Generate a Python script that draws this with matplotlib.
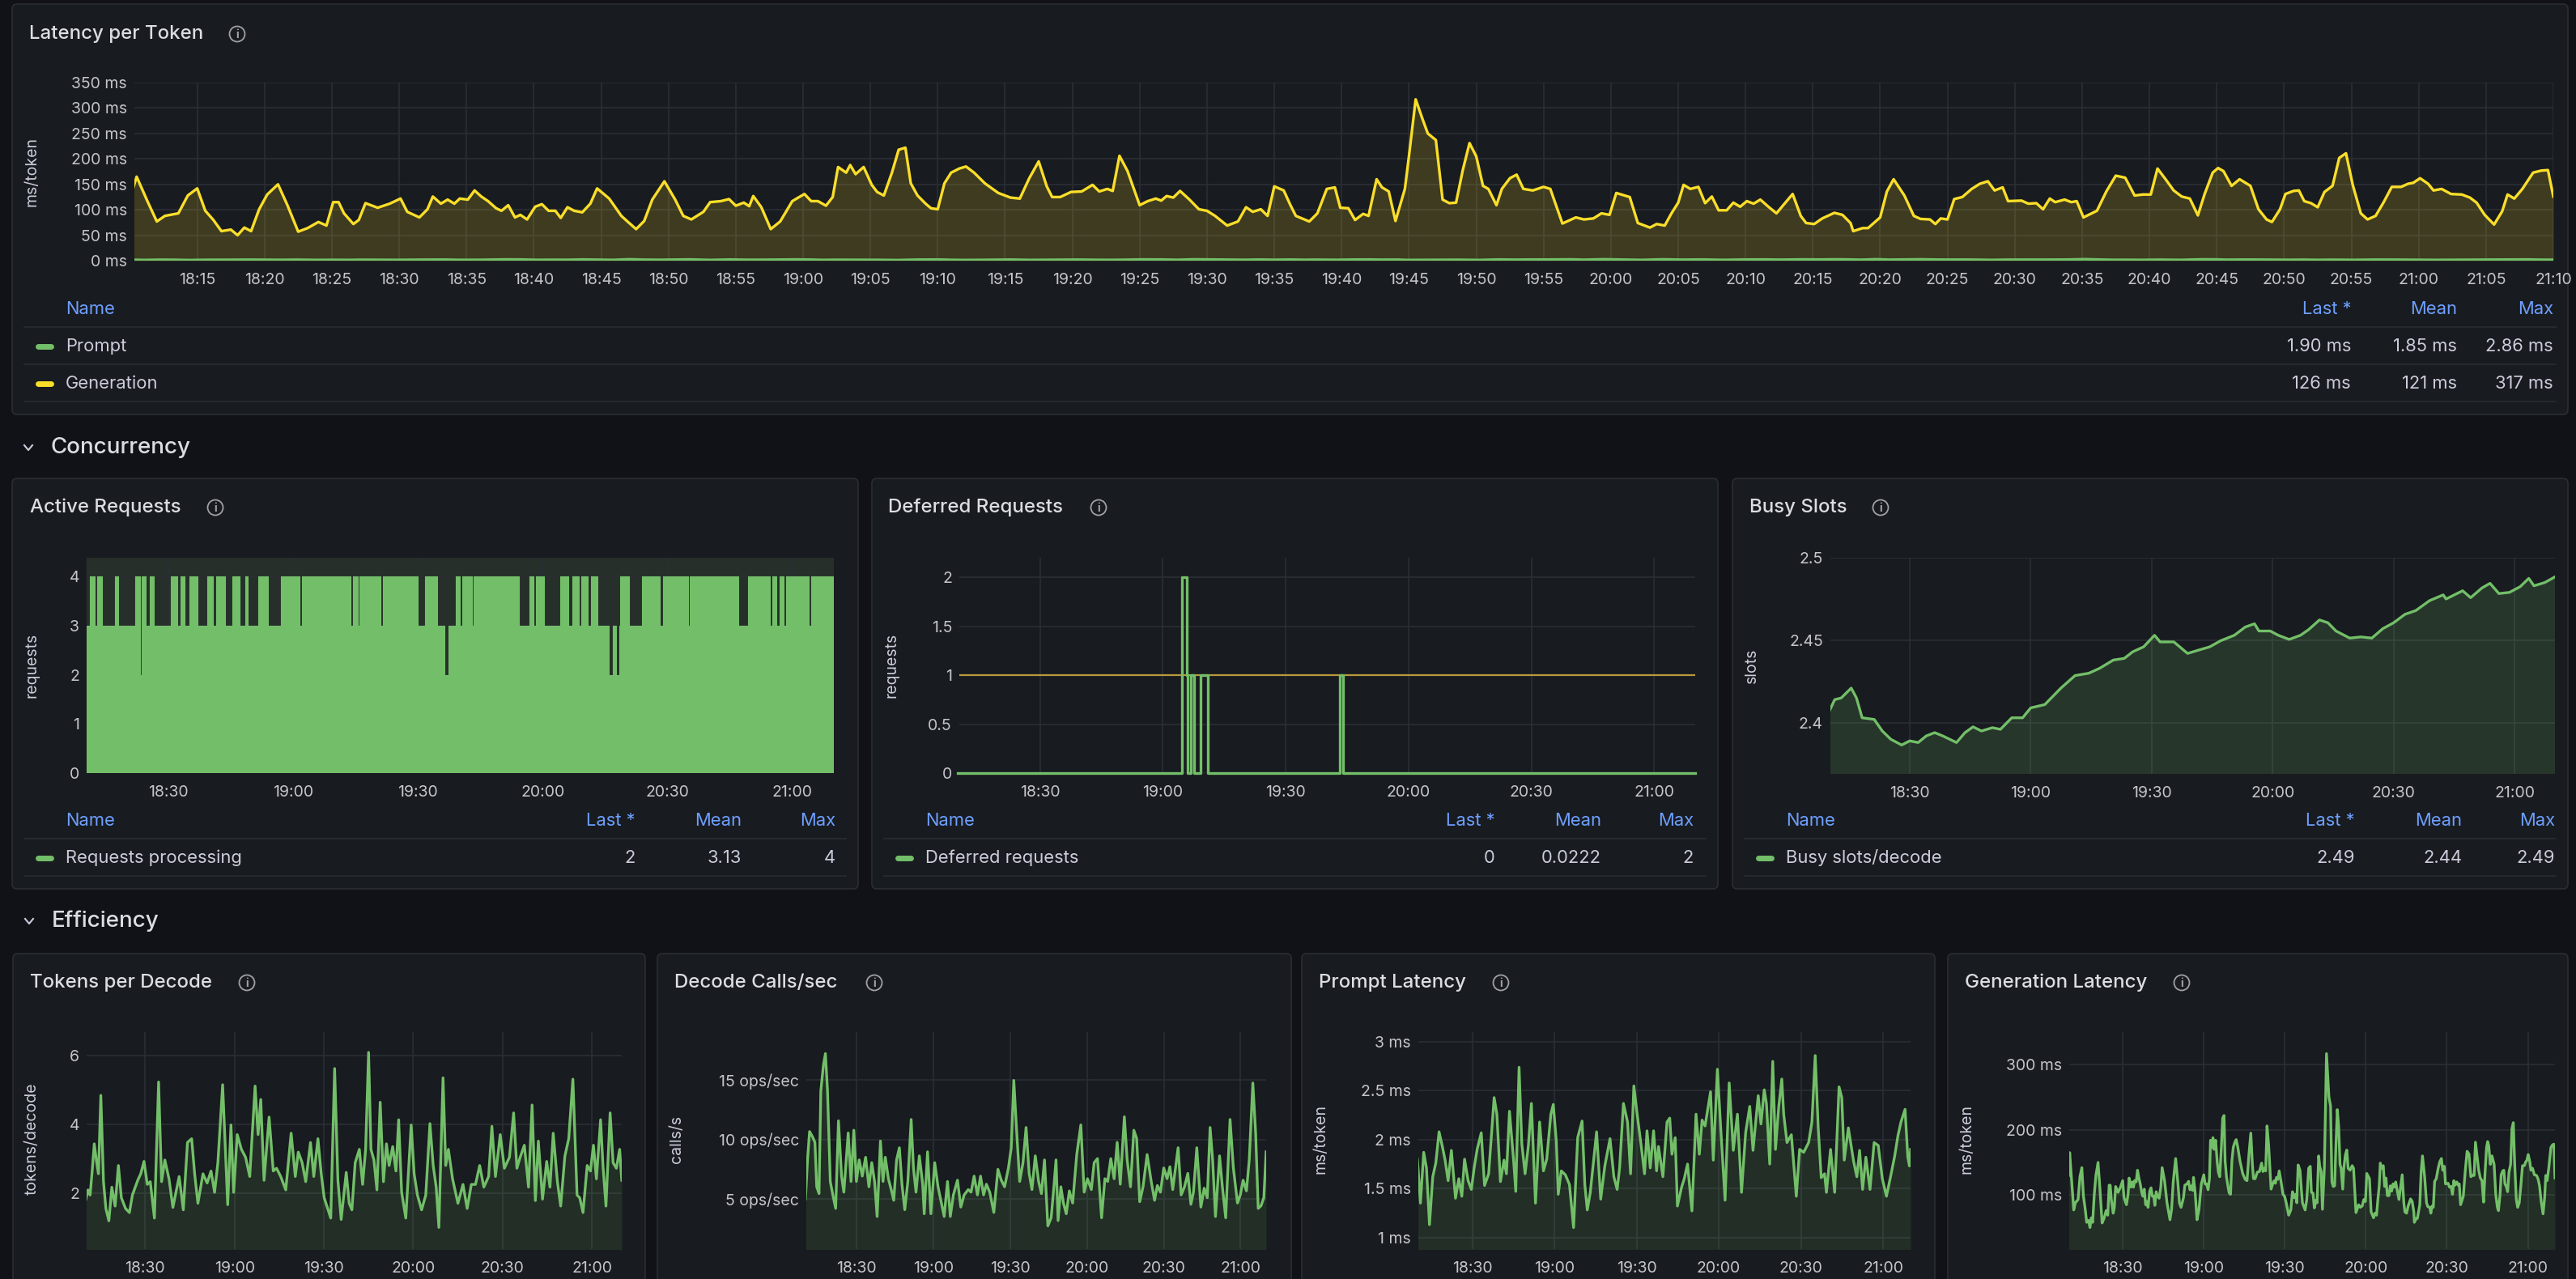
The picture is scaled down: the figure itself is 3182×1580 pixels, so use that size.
import numpy as np
import matplotlib.pyplot as plt
import matplotlib.dates as mdates
from matplotlib.patches import FancyBboxPatch, Circle
from matplotlib.lines import Line2D

plt.rcParams['font.family'] = ['Inter', 'DejaVu Sans']

W, H = 3182, 1580
BG = '#111217'
PANEL = '#181b1f'
BORDER = '#2a2d33'
GRID = '#2b2e34'
TITLE_C = '#dcdde3'
TICK_C = '#c4c5cc'
TEXT_C = '#ccccdc'
BLUE = '#6e9fff'
GREEN = '#73bf69'
YELLOW = '#fade2a'
THRESH = '#b89a3e'

# ---- data (minutes after 18:10) ----
gen_t = [0.1, 0.5, 1.3, 2.0, 2.6, 3.6, 4.3, 5.0, 5.6, 6.2, 6.8, 7.5, 8.0, 8.5, 9.0, 9.6, 10.2, 11.0, 11.7, 12.5,
         13.2, 14.0, 14.6, 15.1, 15.5, 15.9, 16.6, 17.0, 17.5, 18.4, 19.3, 20.1, 20.6, 21.5, 22.1, 22.5, 23.1, 23.6,
         24.1, 24.5, 25.1, 25.6, 26.1, 26.6, 27.2, 27.6, 28.1, 28.6, 29.0, 29.5, 30.1, 30.6, 31.1, 31.6, 32.0, 32.5,
         33.0, 33.6, 34.2, 34.7, 35.6, 36.5, 37.0, 37.6, 38.2, 38.8, 39.7, 40.5, 41.1, 41.7, 42.6, 43.1, 43.9, 44.5,
         45.0, 45.6, 46.0, 46.3, 46.9, 47.6, 48.3, 49.2, 50.1, 50.6, 51.1, 51.7, 52.2, 52.6, 53.2,
         53.5, 53.9, 54.5, 55.1, 55.5, 56.0, 56.6, 57.1, 57.6, 58.0, 58.5, 59.1, 59.5, 60.0, 60.5, 61.0, 61.6, 62.1,
         62.7, 63.5, 64.5, 65.4, 66.1, 66.8, 67.5, 68.1, 68.5, 69.1, 69.9, 70.7, 71.5, 72.0, 72.6, 73.0, 73.5, 74.1,
         75.0, 75.6, 76.2, 76.6, 77.0, 77.5, 78.0, 78.7, 79.4, 80.0, 80.6, 81.5, 82.3, 82.9, 83.4, 84.0, 84.5, 85.0,
         85.7, 86.2, 86.6, 87.6, 88.2, 88.9, 89.5, 89.9, 90.5, 91.0, 91.6, 92.0, 92.6, 93.0, 93.5, 94.0, 94.7, 95.0,
         95.5, 96.0, 96.4, 97.0, 97.5, 98.0, 98.5, 99.0, 99.5, 100.0, 100.5, 100.9, 101.5, 101.9, 102.5, 103.0,
         103.5, 104.2, 105.0, 105.5, 106.4, 107.4, 108.0, 108.7, 109.3, 109.9, 110.4, 111.4, 112.0, 112.9, 113.4,
         114.0, 114.5, 115.0, 115.4, 115.9, 116.5,
         117.0, 117.5, 118.0, 118.6, 119.1, 119.6, 120.1, 120.6, 121.1, 121.7, 122.3, 122.8, 123.5, 124.1, 124.5,
         125.1, 125.7, 126.6, 127.2, 127.8, 128.0, 128.7, 129.1, 130.0, 130.5, 131.0, 131.8, 132.5, 133.0, 133.7,
         134.1, 134.5, 135.0, 135.5, 136.1, 136.8, 137.4, 138.0, 138.5, 139.1, 139.5, 140.5, 141.0, 141.6, 142.1,
         142.6, 143.0, 143.7, 144.2, 144.6, 145.1, 146.1, 146.8, 147.5, 148.2, 148.9, 149.5, 150.1, 150.6, 151.2,
         151.8, 152.4, 153.0, 153.6, 154.1, 154.7, 155.1, 155.5, 156.1, 156.7, 157.5, 158.1, 158.7, 159.1, 159.7,
         160.1, 160.7, 161.1, 161.5, 162.0, 162.5, 163.0, 163.6, 164.1, 164.6, 165.1, 165.7, 166.2, 166.8, 167.4,
         168.0, 168.7, 169.2, 169.6, 170.1, 170.7, 171.1, 171.7, 172.4, 173.2, 173.8, 174.3, 174.9, 175.6, 176.2,
         176.6, 177.1, 177.7, 178.5, 179.1, 179.6, 180.0]
gen_v = [130, 165, 117, 77, 88, 93, 128, 142, 98, 80, 58, 61, 50, 65, 58, 101, 130, 150, 109, 57,
         64, 76, 69, 115, 115, 93, 72, 80, 113, 104, 112, 122, 96, 85, 101, 126, 112, 120,
         112, 122, 120, 138, 126, 117, 103, 98, 109, 85, 90, 81, 106, 111, 98, 98, 84, 105,
         98, 95, 112, 142, 122, 88, 76, 62, 78, 120, 156, 120, 88, 81, 96, 115, 117, 121,
         108, 114, 107, 127, 105, 62, 77, 117, 131, 117, 117, 108, 125, 184, 173,
         188, 170, 184, 149, 135, 128, 173, 218, 222, 152, 128, 112, 103, 101, 152, 173, 181, 185,
         173, 152, 133, 124, 122, 162, 195, 146, 125, 125, 135, 136, 149, 136, 141, 137, 206, 176,
         109, 117, 122, 118, 127, 124, 137, 120, 101, 98, 88, 69, 77, 105, 96, 101, 88, 146,
         138, 109, 88, 77, 93, 141, 144, 104, 103, 80, 92, 88, 160, 144, 136, 78, 141, 205,
         317, 279, 250, 237, 120, 113, 114, 178, 231, 205, 147, 141, 109, 141, 162, 169,
         141, 138, 145, 141, 73, 85, 81, 83, 93, 90, 133, 125, 74, 65, 72,
         69, 93, 114, 149, 141, 145,
         113, 126, 99, 99, 114, 106, 117, 112, 120, 106, 93, 109, 131, 88, 74,
         72, 83, 94, 90, 74, 58, 64, 64, 85, 136, 160, 128, 88, 82, 81,
         72, 83, 81, 121, 125, 141, 151, 156, 138, 144, 117, 118, 112, 113, 101,
         122, 115, 120, 115, 117, 85, 98, 136, 167, 163, 128, 130, 130, 181, 160,
         138, 126, 122, 89, 131, 173, 182, 176, 147, 160, 147, 101, 81, 76, 101,
         131, 137, 138, 117, 113, 105, 135, 147, 202, 211, 149, 93, 81, 88, 115,
         145, 145, 151, 153, 162, 151, 138, 141, 131, 130, 124, 114, 90, 71, 97,
         130, 122, 141, 173, 177, 178, 126]

prompt_t = [0.0, 1.1, 2.3, 3.3, 4.4, 5.6, 6.7, 7.9, 9.1, 10.1, 11.2, 12.4, 13.9, 15.1, 16.2, 17.2, 18.5, 19.7,
            20.7, 21.8, 23.3, 24.5, 26.0, 28.0, 29.0, 30.3, 31.6, 32.5, 33.6, 35.1, 35.9, 37.1, 38.1, 39.3, 40.5,
            41.6, 43.1, 44.6, 46.0, 47.2, 48.7, 49.6, 50.7, 51.4, 52.5, 54.0, 55.5, 57.0, 58.5, 60.1, 61.1, 62.0,
            63.1, 65.4, 66.9, 68.4, 70.3, 71.7, 72.9, 73.8, 75.2, 76.7, 77.8, 79.0, 80.2, 81.7, 82.9, 83.8, 85.0,
            86.2, 87.3, 88.0, 89.6, 91.1, 92.1, 92.9, 94.1, 94.9, 96.4, 97.4, 98.6, 100.2, 101.7, 102.9, 103.9,
            105.0, 107.0, 108.0, 109.5, 110.7, 112.3, 113.8, 115.3, 116.8, 118.3, 119.8, 121.3, 122.5, 124.4,
            125.4, 126.6, 127.4, 128.6, 129.7, 130.7, 131.9, 133.0, 133.7, 134.9, 136.5, 138.3, 139.5, 141.0,
            142.8, 144.0, 145.2, 146.3, 147.4, 148.6, 149.3, 150.8, 152.3, 153.9, 154.9, 155.8, 157.3, 159.2,
            160.4, 161.4, 162.5, 163.7, 165.2, 166.7, 168.2, 169.7, 171.2, 172.7, 174.2, 175.4, 176.5, 178.0,
            179.0, 179.6, 180.0]
prompt_v = [1.80, 1.35, 1.87, 1.71, 1.13, 1.62, 1.76, 2.08, 1.93, 1.79, 1.58, 1.89, 1.40, 1.60, 1.42, 1.80, 1.58, 1.49,
            1.71, 1.90, 2.07, 1.53, 1.65, 2.43, 2.26, 1.57, 1.79, 1.65, 2.29, 1.79, 1.47, 2.74, 1.96, 1.65, 1.94,
            2.37, 1.35, 2.18, 1.68, 1.80, 2.26, 2.36, 1.98, 1.44, 1.68, 1.64, 1.54, 1.10, 2.02, 2.19, 1.54, 1.28,
            1.46, 2.08, 1.39, 1.73, 2.01, 1.62, 1.49, 1.71, 2.37, 2.18, 1.65, 2.55, 2.26, 1.93, 1.65, 2.09, 1.71,
            2.09, 1.68, 1.93, 1.62, 2.18, 2.22, 1.85, 2.02, 1.32, 1.51, 1.60, 1.75, 1.27, 2.26, 1.85, 2.20,
            2.14, 2.49, 1.79, 2.72, 2.12, 1.38, 2.58, 1.89, 2.26, 1.46, 2.07, 2.34, 1.89, 2.45,
            2.16, 2.51, 2.37, 1.75, 2.80, 1.90, 2.34, 2.62, 2.26, 1.97, 2.05, 1.42, 1.90, 1.87,
            1.97, 2.18, 2.86, 2.12, 1.61, 1.65, 1.46, 1.90, 1.46, 2.54, 2.43, 1.79, 2.12, 1.78,
            1.62, 1.89, 1.49, 1.82, 1.49, 1.97, 1.94, 1.60, 1.42, 1.62, 1.83, 2.04, 2.18, 2.31,
            1.82, 1.73, 1.90]

tpd_t = [0.1, 0.8, 1.5, 2.2, 2.9, 3.6, 4.3, 5.1, 6.0, 6.8, 7.8, 8.8, 9.9, 11.0, 12.0, 13.4, 14.7, 15.7, 17.5, 18.5,
         19.6, 20.7, 21.7, 23.1, 24.5, 25.5, 26.6, 28.0, 29.3, 30.5, 31.4, 32.8, 34.2, 35.6, 36.6, 37.7, 39.4, 40.8,
         42.1, 43.3, 44.4, 46.0, 47.7, 48.8, 49.7, 50.9, 52.3, 53.7, 55.1, 56.9, 57.9, 58.8, 59.9, 61.6, 63.0, 64.1,
         65.5, 67.2, 69.0, 70.4, 71.4, 72.7, 73.9, 75.5, 76.6, 78.0, 79.1, 80.1, 82.3, 83.6, 84.7, 85.8, 87.5, 88.5,
         89.4, 90.5, 91.9, 93.0, 94.0, 95.0, 95.8, 96.8, 97.8, 98.9, 100.0, 101.0, 101.9, 103.1, 104.2, 105.1,
         106.1, 107.5, 109.3, 110.3, 111.4, 112.8, 114.2, 115.6, 116.7, 117.7, 118.6, 120.0, 120.9, 121.8, 123.2,
         125.0, 126.7, 128.1, 129.5, 130.9, 132.3, 133.7, 135.3, 136.4, 137.6, 139.2, 140.6, 142.3, 143.7, 144.8,
         145.9, 147.3, 148.7, 149.9, 151.0, 152.0, 153.4, 154.8, 155.9, 157.0, 158.4, 159.5, 160.9, 162.2, 163.6,
         165.0, 165.9, 167.0, 168.4, 169.5, 170.5, 171.5, 172.9, 173.7, 174.7, 176.1, 177.1, 178.2, 179.3, 180.0]
tpd_v = [1.82, 2.09, 1.94, 2.64, 3.43, 2.96, 2.56, 4.84, 2.33, 1.55, 1.19, 2.17, 1.62, 2.80, 1.86, 1.55, 1.43, 1.94,
         2.37, 2.56, 2.92, 2.25, 2.33, 1.27, 5.23, 2.33, 2.96, 2.41, 1.58, 2.09, 2.48, 1.51, 3.47, 3.58, 2.56, 1.70,
         2.56, 2.29, 2.64, 2.02, 2.88, 5.15, 1.66, 3.98, 2.02, 3.70, 3.27, 3.04, 2.48, 5.11, 3.70, 4.72, 2.37, 4.21,
         2.64, 2.72, 2.48, 2.09, 3.74, 2.48, 3.19, 2.88, 2.33, 3.47, 2.48, 3.58, 2.56, 1.86, 1.27, 5.62, 2.37, 1.23,
         2.60, 1.70, 1.51, 2.88, 3.27, 2.25, 3.27, 6.09, 3.27, 2.96, 2.09, 4.64, 2.33, 3.43, 2.80, 3.35, 2.64, 4.13,
         2.02, 1.27, 3.98, 2.56, 1.94, 1.51, 1.94, 4.02, 2.80, 2.17, 1.00, 5.35, 2.80, 3.27, 2.41,
         1.70, 2.25, 1.55, 2.25, 2.25, 2.80, 2.17, 2.48, 3.94, 2.48, 3.70, 2.72, 3.04, 4.33, 2.72,
         3.04, 3.39, 2.17, 4.56, 1.78, 3.51, 1.82, 2.92, 2.17, 3.74, 2.33, 1.62, 3.07, 3.58, 5.31,
         1.94, 1.86, 1.43, 2.80, 2.64, 3.39, 2.41, 4.13, 2.80, 1.62, 4.33, 2.88, 2.72, 3.27, 2.37]

calls_t = [0.0, 0.8, 1.6, 2.8, 3.7, 4.4, 5.3, 6.0, 7.0, 7.8, 8.6, 9.7, 10.8, 11.8, 12.9, 14.1, 15.0, 16.7, 17.8, 18.9,
           19.9, 21.0, 22.2, 23.5, 24.8, 25.9, 27.0, 28.0, 29.3, 30.3, 31.2, 32.4, 33.5, 34.5, 35.6, 36.7, 37.7, 38.8,
           40.0, 41.3, 42.2, 43.2, 44.5, 45.8, 46.4, 47.7, 49.0, 50.5, 51.8, 52.9, 54.2, 55.5, 56.6, 57.8, 59.4, 60.7,
           62.0, 63.6, 64.7, 65.9, 67.2, 68.4, 69.6, 70.7, 72.0, 73.6, 75.2, 76.5, 77.8, 79.3, 80.4, 81.4, 82.5, 83.7,
           85.0, 86.2, 87.4, 88.5, 89.8, 91.1, 92.2, 93.4, 94.7, 96.0, 97.1, 97.9, 98.7, 99.8, 100.8, 101.9, 103.1,
           104.4, 106.0, 107.6, 108.9, 110.2, 111.7, 112.8, 114.1, 115.7, 117.0, 118.1, 119.3, 120.6, 121.8, 123.0,
           124.6, 125.7, 127.0, 128.3, 129.4, 130.6, 131.9, 133.5, 135.1, 136.4, 137.5, 138.7, 140.0, 141.3, 142.4,
           143.5, 145.6, 146.8, 148.1, 149.4, 150.6, 151.6, 152.9, 154.5, 155.8, 157.0, 158.1, 159.1, 160.2, 161.8,
           162.9, 164.2, 165.9, 167.2, 168.8, 169.9, 171.0, 172.3, 173.4, 174.8, 175.9, 176.9, 178.0, 179.1, 180.0]
calls_v = [5.0, 8.28, 10.66, 10.2, 9.75, 6.02, 5.45, 14.05, 16.2, 17.2, 14.16, 6.47, 5.23, 4.21, 11.56, 6.92, 5.57,
           10.54, 6.47, 10.77, 6.47, 8.28, 6.92, 8.5, 6.02, 8.05, 6.47, 3.53, 9.86, 6.47, 8.5, 6.7, 5.79, 4.89, 8.28,
           9.3, 6.24, 4.1, 6.47, 11.67, 7.6, 5.57, 8.62, 6.24, 3.76, 8.96, 3.76, 8.05, 6.02, 4.89, 3.53, 6.47, 3.53,
           5.34, 6.58, 4.32, 5.34, 5.79, 5.57, 6.92, 5.34, 6.92, 5.34, 6.24, 5.57, 3.87, 7.49, 6.58, 6.02, 7.6, 9.3,
           14.95, 10.77, 6.47, 8.05, 11.0, 7.15, 5.79, 8.62, 6.47, 5.45, 8.28, 2.74, 3.42, 6.13, 8.28, 3.19, 6.02,
           4.66, 3.76, 5.68, 4.66, 8.73, 11.22, 5.57, 6.7, 5.79, 8.05, 8.39, 3.42, 6.7, 6.47, 8.39, 6.7, 9.75, 6.24,
           11.9, 8.28, 6.02, 10.77, 10.09, 4.77, 6.02, 8.73, 6.47, 4.89, 6.13, 5.57, 7.6, 6.7, 7.71, 5.79, 9.3, 5.34,
           6.02, 7.15, 4.55, 5.57, 9.3, 4.32, 5.91, 5.11, 11.0, 8.28, 3.53, 8.62, 6.02, 3.42, 11.67, 7.6, 4.66, 5.34,
           6.58, 5.68, 8.28, 14.73, 10.54, 4.21, 4.43, 5.11, 8.96]

busy_t = [0, 1.4, 3.0, 5.5, 6.8, 8.2, 11.2, 13.2, 15.3, 18.0, 20.0, 22.1, 24.1, 26.2, 28.2, 31.6, 33.7, 35.7, 37.8,
          40.5, 42.5, 45.3, 48.0, 50.0, 53.5, 57.5, 61.0, 64.4, 67.1, 70.5, 73.2, 75.3, 78.0, 80.7, 82.1, 85.5, 88.9,
          91.6, 94.4, 97.1, 100.5, 103.2, 105.5, 106.6, 109.4, 111.4, 114.1, 116.9, 118.9, 121.6, 123.7, 125.7, 129.1,
          131.9, 134.6, 137.3, 140.0, 142.8, 145.5, 148.9, 152.3, 153.0, 157.1, 159.1, 161.9, 163.9, 166.1, 168.7,
          171.4, 173.5, 174.8, 177.5, 180.0]
busy_v = [2.4067, 2.414, 2.415, 2.421, 2.415, 2.403, 2.402, 2.395, 2.390, 2.3865, 2.389, 2.388, 2.392, 2.394, 2.392,
          2.388, 2.394, 2.3975, 2.395, 2.397, 2.396, 2.403, 2.403, 2.409, 2.411, 2.421, 2.4286, 2.430, 2.433, 2.438,
          2.439, 2.443, 2.446, 2.453, 2.449, 2.449, 2.442, 2.444, 2.446, 2.4497, 2.453, 2.458, 2.460, 2.4556, 2.4556,
          2.453, 2.4505, 2.453, 2.4564, 2.4623, 2.4606, 2.4556, 2.4513, 2.452, 2.4513, 2.457, 2.4606, 2.4657, 2.468,
          2.474, 2.4775, 2.475, 2.48, 2.4758, 2.4817, 2.4845, 2.4783, 2.479, 2.4825, 2.4875, 2.483, 2.485, 2.4884]

# active requests: value holds from each change time until the next
active_t = [0.0, 0.3, 1.1, 2.3, 2.8, 4.0, 5.3, 5.5, 6.5, 6.7, 7.1, 8.0, 11.7, 11.9, 12.1, 13.2, 13.6, 14.6, 15.6,
            16.5, 16.9, 17.1, 20.6, 22.1, 23.0, 23.9, 25.0, 27.0, 29.4, 30.7, 31.2, 31.4, 33.7, 35.4, 36.2, 36.4,
            37.1, 38.4, 39.1, 41.6, 43.9, 47.1, 51.6, 51.8, 52.0, 52.1, 63.7, 64.3, 65.6, 66.0, 70.9, 71.6, 75.3,
            75.5, 80.0, 81.7, 84.7, 84.8, 85.0, 86.3, 87.4, 89.0, 90.1, 90.6, 92.9, 93.3, 104.2, 106.8, 107.8,
            108.4, 110.3, 110.7, 110.9, 114.3, 116.1, 116.3, 116.5, 117.2, 118.7, 119.3, 120.9, 121.6, 123.2,
            125.8, 126.9, 127.7, 128.4, 128.6, 130.8, 133.8, 138.1, 139.0, 144.9, 145.4, 157.1, 159.4, 164.6,
            164.8, 165.2, 166.1, 167.0, 167.9, 168.6, 174.0, 174.6, 179.9, 180.0]
active_v = [2, 3, 4, 3, 4, 3, 2, 3, 2, 3, 4, 3, 2, 3, 4, 2, 4, 3, 4,
            3, 2, 3, 4, 3, 4, 3, 4, 3, 4, 3, 2, 4, 3, 4, 2, 4,
            3, 4, 3, 4, 3, 4, 3, 2, 3, 4, 3, 4, 3, 4, 3, 4, 2,
            4, 3, 4, 3, 2, 3, 2, 3, 4, 3, 4, 3, 4, 3, 4, 3,
            4, 3, 0, 3, 4, 3, 2, 3, 4, 3, 4, 3, 4, 3,
            2, 3, 2, 3, 4, 3, 4, 3, 4, 3, 4, 3, 4, 2,
            3, 4, 3, 4, 3, 4, 3, 4, 2, 2]

deferred_t = [0.0, 54.7, 55.9, 56.1, 56.8, 57.7, 59.2, 61.0, 93.3, 94.1, 180.0]
deferred_v = [0, 2, 1, 0, 1, 0, 1, 0, 1, 0, 0]
deferred_threshold = 1

stat_cols = ['Last *', 'Mean', 'Max']
latency_stats = [['1.90 ms', '1.85 ms', '2.86 ms'], ['126 ms', '121 ms', '317 ms']]
active_stats = ['2', '3.13', '4']
deferred_stats = ['0', '0.0222', '2']
busy_stats = ['2.49', '2.44', '2.49']

base = np.datetime64('2024-01-01T18:10:00')


def to_time(mins):
    return base + np.round(np.asarray(mins) * 60).astype(int).astype('timedelta64[s]')


T0 = base + np.timedelta64(20, 's')
T1 = base + np.timedelta64(180, 'm')

fig = plt.figure(figsize=(W / 100, H / 100), dpi=100, facecolor=BG)
INCH = fig.dpi_scale_trans
LW = 2.4


def pt(x, y):
    return x / 100, (H - y) / 100


def panel(x0, y0, x1, y1):
    x, y = pt(x0, y1)
    fig.add_artist(FancyBboxPatch((x, y), (x1 - x0) / 100, (y1 - y0) / 100,
                                  boxstyle='round,pad=0,rounding_size=0.06', transform=INCH,
                                  fc=PANEL, ec=BORDER, lw=1.2, zorder=-5))


def txt(x, y, s, size, color, ha='left', va='center', **kw):
    fig.text(x / W, 1 - y / H, s, fontsize=size, color=color, ha=ha, va=va, **kw)


def hline(x0, x1, y, color=BORDER, lw=1.2):
    fig.add_artist(Line2D([x0 / 100, x1 / 100], [(H - y) / 100] * 2, transform=INCH, color=color, lw=lw))


def title(x, y, s, icon_x):
    txt(x, y, s, 17.3, TITLE_C, fontweight='medium')
    fig.add_artist(Circle(pt(icon_x, y), 0.095, transform=INCH, fill=False, ec='#a0a1a8', lw=1.3))
    txt(icon_x, y + 1, 'i', 10, '#a0a1a8', ha='center', fontweight='bold')


def section(x, y, s):
    cx = x - 28
    fig.add_artist(Line2D([(cx - 5) / 100, cx / 100, (cx + 5) / 100],
                          [(H - y + 3) / 100, (H - y - 3) / 100, (H - y + 3) / 100],
                          transform=INCH, color=TEXT_C, lw=1.5))
    txt(x, y, s, 20, TITLE_C, fontweight='medium')


def ylabel(x, y, s):
    txt(x, y, s, 14, TEXT_C, ha='center', rotation=90)


def add_ax(x0, y0, x1, y1):
    return fig.add_axes([x0 / W, 1 - y1 / H, (x1 - x0) / W, (y1 - y0) / H])


def style(ax, step, yticks, fmt, ylim):
    ax.set_facecolor('none')
    ax.set_xlim(T0, T1)
    ax.set_ylim(*ylim)
    ax.xaxis.set_major_locator(mdates.MinuteLocator(byminute=range(0, 60, step)))
    ax.xaxis.set_major_formatter(mdates.DateFormatter('%H:%M'))
    ax.set_yticks(yticks)
    ax.set_yticklabels([fmt(v) for v in yticks])
    ax.grid(True, color=GRID, lw=1.2)
    ax.set_axisbelow(True)
    for s in ax.spines.values():
        s.set_visible(False)
    ax.tick_params(axis='both', length=0, colors=TICK_C, labelsize=14)
    ax.tick_params(axis='x', pad=10.5)
    ax.tick_params(axis='y', pad=6.5)


def legend_table(x0, x1, hdr_y, cols, rows):
    name_x = x0 + 66
    txt(name_x, hdr_y, 'Name', 15.8, BLUE)
    for c, h in zip(cols, stat_cols):
        txt(c, hdr_y, h, 15.8, BLUE, ha='right')
    hline(x0 + 15, x1 - 15, hdr_y + 22)
    for i, (name, color, stats) in enumerate(rows):
        y = hdr_y + 46 + 45.5 * i
        fig.add_artist(Line2D([(x0 + 32) / 100, (x0 + 48) / 100], [(H - y) / 100] * 2, transform=INCH,
                              color=color, lw=5, solid_capstyle='round'))
        txt(name_x, y, name, 15.8, TEXT_C)
        for c, s in zip(cols, stats):
            txt(c, y, s, 15.8, TEXT_C, ha='right')
        hline(x0 + 15, x1 - 15, y + 22)


ms = lambda v: f'{v:g} ms'
plain = lambda v: f'{v:g}'

# ---- Latency per Token ----
panel(15, 5, 3172, 512)
title(36, 42, 'Latency per Token', 293)
ylabel(40, 212, 'ms/token')
ax = add_ax(166, 102, 3154, 322)
gt = to_time(gen_t)
ax.fill_between(gt, gen_v, 0, color=YELLOW, alpha=0.17, lw=0)
ax.plot(gt, gen_v, color=YELLOW, lw=LW)
ax.plot(to_time(prompt_t), prompt_v, color=GREEN, lw=LW)
style(ax, 5, list(range(0, 351, 50)), ms, (0, 350))
legend_table(15, 3172, 382, [2904, 3035, 3154],
             [('Prompt', GREEN, latency_stats[0]), ('Generation', YELLOW, latency_stats[1])])

# ---- Concurrency ----
section(63, 553, 'Concurrency')

panel(15, 591, 1060, 1098)
title(37, 627, 'Active Requests', 266)
ylabel(40, 822, 'requests')
ax = add_ax(107, 689, 1030, 955)
style(ax, 30, [0, 1, 2, 3, 4], plain, (0, 4.38))
ax.set_facecolor('#262f29')
at = to_time(active_t)
ax.fill_between(at, active_v, 0, step='post', color=GREEN, lw=0)
ax.step(at, active_v, where='post', color=GREEN, lw=0.8)
legend_table(15, 1060, 1014, [785, 916, 1032], [('Requests processing', GREEN, active_stats)])

panel(1077, 591, 2122, 1098)
title(1097, 627, 'Deferred Requests', 1357)
ylabel(1101, 822, 'requests')
ax = add_ax(1185, 689, 2094, 955)
style(ax, 30, [0, 0.5, 1, 1.5, 2], plain, (0, 2.2))
ax.axhline(deferred_threshold, color=THRESH, lw=1.6)
ax.step(to_time(deferred_t), deferred_v, where='post', color=GREEN, lw=LW, clip_on=False)
legend_table(1077, 2122, 1014, [1847, 1978, 2092], [('Deferred requests', GREEN, deferred_stats)])

panel(2140, 591, 3172, 1098)
title(2161, 627, 'Busy Slots', 2323)
ylabel(2164, 822, 'slots')
ax = add_ax(2261, 689, 3156, 956)
bt = to_time(busy_t)
ax.fill_between(bt, busy_v, 0, color=GREEN, alpha=0.17, lw=0)
ax.plot(bt, busy_v, color=GREEN, lw=LW)
style(ax, 30, [2.4, 2.45, 2.5], plain, (2.369, 2.5))
legend_table(2140, 3172, 1014, [2909, 3041, 3156], [('Busy slots/decode', GREEN, busy_stats)])

# ---- Efficiency ----
section(64, 1138, 'Efficiency')

bottom = [
    ((16, 797), 'Tokens per Decode', 305, 'tokens/decode', (107, 768), tpd_t, tpd_v,
     [2, 4, 6], plain, (0.37, 6.68)),
    ((812, 1595), 'Decode Calls/sec', 1080, 'calls/s', (996, 1564), calls_t, calls_v,
     [5, 10, 15], lambda v: f'{v:g} ops/sec', (0.8, 19.0)),
    ((1608, 2390), 'Prompt Latency', 1854, 'ms/token', (1752, 2360), prompt_t, prompt_v,
     [1, 1.5, 2, 2.5, 3], ms, (0.88, 3.1)),
    ((2406, 3172), 'Generation Latency', 2695, 'ms/token', (2556, 3156), gen_t, gen_v,
     [100, 200, 300], ms, (17, 350)),
]
for (px0, px1), name, icon_x, ylab, (ax0, ax1), t, v, yt, fmt, yl in bottom:
    panel(px0, 1178, px1, 1620)
    title(px0 + 21, 1214, name, icon_x)
    ylabel(px0 + 24, 1407, ylab)
    ax = add_ax(ax0, 1275, ax1, 1543)
    tt = to_time(t)
    ax.fill_between(tt, v, 0, color=GREEN, alpha=0.12, lw=0)
    ax.plot(tt, v, color=GREEN, lw=LW)
    style(ax, 30, yt, fmt, yl)

fig.savefig('out.png', dpi=100, facecolor=BG)
